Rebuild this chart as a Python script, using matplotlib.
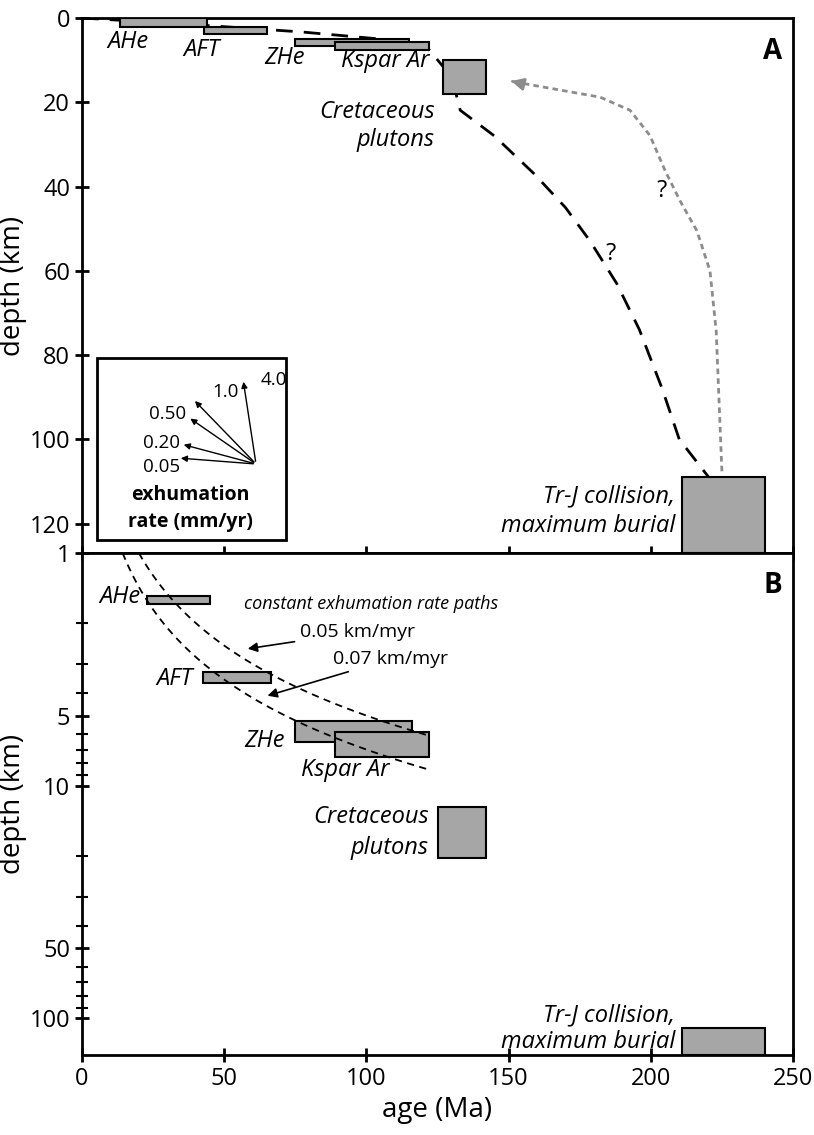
import numpy as np
import matplotlib
matplotlib.use("Agg")
import matplotlib.pyplot as plt
from matplotlib.patches import Rectangle, FancyArrowPatch

plt.rcParams['font.family'] = ['Open Sans', 'DejaVu Sans']

W, H = 814, 1135

# boxes: (label, age_min, age_max, depth_top, depth_bottom)
boxes_a = [("AHe", 13.4, 44, 0, 2.1), ("AFT", 43, 65, 2.1, 3.8),
           ("ZHe", 75, 115, 5, 6.7), ("Kspar Ar", 89, 122, 5.7, 7.6),
           ("Cretaceous", 127, 142, 10, 18), ("Tr-J", 211, 240, 109, 127)]
boxes_b = [("AHe", 23, 45, 1.53, 1.66), ("AFT", 42.5, 66.5, 3.26, 3.63),
           ("ZHe", 75, 116, 5.3, 6.5), ("Kspar Ar", 89, 122, 5.9, 7.5),
           ("Cretaceous", 125, 142, 12.4, 20.4), ("Tr-J", 211, 240, 110, 144)]

# black dashed path (panel A)
path_age = [0, 40, 77, 105, 122, 130, 133, 145, 159, 170, 178.6, 188, 196, 204, 210, 221.5]
path_depth = [0, 1.6, 3.3, 5.0, 7.5, 14, 21.9, 28, 37, 45, 52.9, 63, 74, 88, 100, 110]
# grey dotted path (panel A)
grey_age = [225, 223, 220.8, 216.2, 210.2, 205, 199.7, 192.7, 182.2, 168.1, 152.3]
grey_depth = [107.6, 74.3, 60, 50.5, 43.3, 36.2, 27.9, 21.9, 18.8, 17.1, 15.2]

# inset exhumation arrows (label, tip px, label px)
rates = ["0.05", "0.20", "0.50", "1.0", "4.0"]
tips = [(178, 458), (181, 444), (188, 417), (193, 399), (243, 379)]
rate_lbl = [(180, 467), (180, 443), (186, 414), (212, 392), (261, 380)]

# constant exhumation rate paths (km/myr), panel B
path_rates = [0.05, 0.07]
path_end = [122, 121]

fig = plt.figure(figsize=(W / 100, H / 100), dpi=100)

def ax_px(l, r, t, b):
    return fig.add_axes([l / W, 1 - b / H, (r - l) / W, (b - t) / H])

axA = ax_px(82, 793, 18, 553)
axB = ax_px(82, 793, 553, 1055)

def boxes(ax, bx):
    for lbl, a0, a1, d0, d1 in bx:
        ax.add_patch(Rectangle((a0, d0), a1 - a0, d1 - d0, fc="#a6a6a6",
                               ec="black", lw=1.5, zorder=3))

for ax in (axA, axB):
    ax.set_xlim(0, 250)
    for s in ax.spines.values():
        s.set_linewidth(2)
    ax.tick_params(direction="inout", width=2, length=10, labelsize=17)
    ax.tick_params(which="minor", direction="inout", width=1.5, length=8)

it = dict(fontsize=17, style="italic")

# panel A
axA.set_ylim(127, 0)
axA.set_yticks([0, 20, 40, 60, 80, 100, 120])
axA.set_xticks([0, 50, 100, 150, 200, 250])
axA.tick_params(axis="x", labelbottom=False)
axA.set_ylabel("depth (km)", fontsize=20, labelpad=2)
boxes(axA, boxes_a)
axA.plot(path_age, path_depth, "k", ls=(0, (6, 4)), lw=2, zorder=2)
axA.plot(grey_age, grey_depth, color="#8c8c8c", ls=(0, (2, 1.5)), lw=2, zorder=2)
axA.annotate("", xy=(150, 14.8), xytext=(152.3, 15.2),
             arrowprops=dict(arrowstyle="-|>", color="#8c8c8c", lw=2, mutation_scale=18))
axA.text(204, 41, "?", fontsize=17, ha="center", va="center")
axA.text(186, 56, "?", fontsize=17, ha="center", va="center")
axA.text(9, 5.7, "AHe", ha="left", va="center", **it)
axA.text(35.5, 7.6, "AFT", ha="left", va="center", **it)
axA.text(64, 9.5, "ZHe", ha="left", va="center", **it)
axA.text(91, 10.2, "Kspar Ar", ha="left", va="center", **it)
axA.text(124, 22.4, "Cretaceous", ha="right", va="center", **it)
axA.text(124, 29, "plutons", ha="right", va="center", **it)
axA.text(208.5, 113.6, "Tr-J collision,", ha="right", va="center", **it)
axA.text(208.5, 120.7, "maximum burial", ha="right", va="center", **it)
axA.text(0.985, 0.965, "A", transform=axA.transAxes, fontsize=20, weight="bold", ha="right", va="top")

# inset (figure pixel coords)
fig.patches.append(Rectangle((97 / W, 1 - 540 / H), 189 / W, 182 / H, fill=False,
                             ec="black", lw=2, transform=fig.transFigure, figure=fig))
ox, oy = 256, 464
for r, (tx, ty), (lx, ly) in zip(rates, tips, rate_lbl):
    fig.patches.append(FancyArrowPatch(
        (ox / W, 1 - oy / H), (tx / W, 1 - ty / H), transform=fig.transFigure,
        arrowstyle="-|>", mutation_scale=9, lw=1, color="black"))
    fig.text(lx / W, 1 - ly / H, r, fontsize=13.5, ha="right" if lx < 200 else "left", va="center")
fig.text(190 / W, 1 - 495 / H, "exhumation", fontsize=14, weight="bold", ha="center", va="center")
fig.text(190 / W, 1 - 522 / H, "rate (mm/yr)", fontsize=14, weight="bold", ha="center", va="center")

# panel B
axB.set_yscale("log")
axB.set_ylim(144, 1)
axB.set_yticks([1, 5, 10, 50, 100])
axB.set_yticklabels(["1", "5", "10", "50", "100"])
minors = [2, 3, 4, 6, 7, 8, 9, 20, 30, 40, 60, 70, 80, 90]
axB.set_yticks(minors, minor=True)
axB.set_yticklabels([], minor=True)
axB.set_xticks([0, 50, 100, 150, 200, 250])
axB.set_ylabel("depth (km)", fontsize=20, labelpad=2)
axB.set_xlabel("age (Ma)", fontsize=20)
boxes(axB, boxes_b)
for r, e in zip(path_rates, path_end):
    ages = np.linspace(1 / r, e, 100)
    axB.plot(ages, r * ages, "k", ls=(0, (4, 3)), lw=1.3, zorder=4)
axB.text(57, 1.66, "constant exhumation rate paths", fontsize=13, style="italic", va="center")
axB.annotate("0.05 km/myr", xy=(57.3, 2.59), xytext=(76.7, 2.19), fontsize=14, va="center",
             arrowprops=dict(arrowstyle="-|>", color="black", lw=1.2, mutation_scale=14))
axB.annotate("0.07 km/myr", xy=(64.3, 4.14), xytext=(88.3, 2.86), fontsize=14, va="center",
             arrowprops=dict(arrowstyle="-|>", color="black", lw=1.2, mutation_scale=14))
axB.text(20.4, 1.55, "AHe", ha="right", va="center", **it)
axB.text(39, 3.49, "AFT", ha="right", va="center", **it)
axB.text(71.4, 6.45, "ZHe", ha="right", va="center", **it)
axB.text(92.5, 8.6, "Kspar Ar", ha="center", va="center", **it)
axB.text(122, 13.7, "Cretaceous", ha="right", va="center", **it)
axB.text(122, 18.5, "plutons", ha="right", va="center", **it)
axB.text(208.5, 97, "Tr-J collision,", ha="right", va="center", **it)
axB.text(208.5, 127, "maximum burial", ha="right", va="center", **it)
axB.text(0.985, 0.965, "B", transform=axB.transAxes, fontsize=20, weight="bold", ha="right", va="top")

fig.savefig("out.png", dpi=100)
